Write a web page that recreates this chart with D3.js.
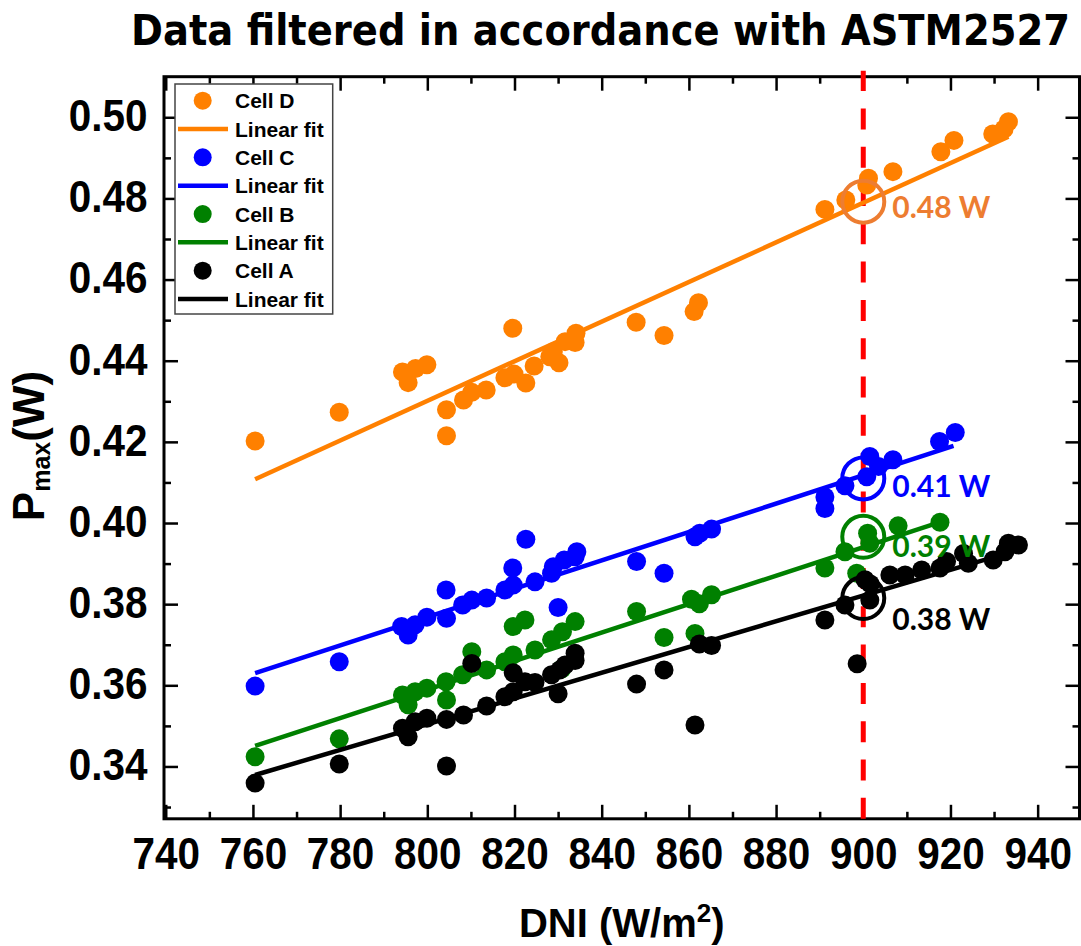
<!DOCTYPE html>
<html>
<head>
<meta charset="utf-8">
<script src="https://cdn.jsdelivr.net/npm/d3@7"></script>
<style>
  body { margin: 0; background: #fff; }
  svg { display: block; }
</style>
</head>
<body>
<div id="chart"></div>
<script>
// Values: DNI (W/m2) vs Pmax (W) for each cell
const cellD_dni  = [760.5, 779.8, 794.3, 795.6, 797.3, 799.9, 804.4, 804.4, 808.3, 810.2, 813.5, 817.8, 819.9, 819.6, 822.6, 824.5, 828.1, 828.9, 830.2, 831.6, 833.9, 834.1, 847.9, 854.3, 861.2, 862.2, 891.2, 896.0, 900.8, 901.2, 906.8, 917.8, 920.8, 929.7, 932.3, 933.3];
const cellD_pmax = [0.4202, 0.4273, 0.4372, 0.4346, 0.4381, 0.4390, 0.4279, 0.4215, 0.4303, 0.4322, 0.4328, 0.4358, 0.4367, 0.4480, 0.4345, 0.4387, 0.4410, 0.4422, 0.4395, 0.4447, 0.4445, 0.4468, 0.4495, 0.4462, 0.4521, 0.4543, 0.4773, 0.4796, 0.4833, 0.4850, 0.4866, 0.4915, 0.4943, 0.4959, 0.4971, 0.4989];

const cellC_dni  = [760.5, 779.8, 794.1, 795.6, 797.2, 799.9, 804.3, 804.4, 808.1, 810.2, 813.6, 817.8, 819.7, 819.6, 822.6, 824.7, 828.5, 828.9, 830.0, 831.4, 833.9, 834.3, 848.0, 854.3, 861.4, 862.5, 865.2, 891.2, 891.2, 895.8, 900.8, 901.5, 903.5, 906.8, 917.5, 921.1];
const cellC_pmax = [0.3598, 0.3658, 0.3745, 0.3724, 0.3749, 0.3768, 0.3835, 0.3765, 0.3798, 0.3810, 0.3815, 0.3835, 0.3847, 0.3889, 0.3960, 0.3855, 0.3876, 0.3892, 0.3792, 0.3909, 0.3917, 0.3929, 0.3905, 0.3876, 0.3966, 0.3975, 0.3985, 0.4036, 0.4064, 0.4092, 0.4114, 0.4164, 0.4139, 0.4156, 0.4201, 0.4223];

const cellB_dni  = [760.5, 779.8, 794.3, 795.6, 797.2, 799.9, 804.3, 804.4, 808.1, 810.2, 813.6, 817.8, 819.7, 819.7, 822.4, 824.7, 828.5, 830.8, 831.0, 833.9, 848.0, 854.3, 860.6, 861.4, 862.4, 865.2, 891.2, 895.8, 898.5, 901.0, 901.5, 908.0, 917.6];
const cellB_pmax = [0.3424, 0.3468, 0.3576, 0.3552, 0.3584, 0.3593, 0.3609, 0.3564, 0.3626, 0.3683, 0.3638, 0.3658, 0.3675, 0.3745, 0.3761, 0.3687, 0.3712, 0.3640, 0.3732, 0.3757, 0.3782, 0.3718, 0.3812, 0.3728, 0.3801, 0.3823, 0.3889, 0.3929, 0.3876, 0.3975, 0.3950, 0.3993, 0.4002];

const cellA_dni  = [760.5, 779.8, 794.3, 795.6, 797.2, 799.9, 804.4, 804.4, 808.3, 810.2, 813.6, 817.8, 819.7, 819.7, 822.4, 824.7, 828.5, 830.0, 830.4, 831.6, 833.9, 833.9, 848.0, 854.3, 861.4, 862.4, 865.2, 891.2, 895.8, 898.6, 900.4, 901.5, 901.6, 906.1, 909.6, 913.4, 917.6, 919.1, 923.0, 924.1, 929.8, 932.5, 933.3, 935.6];
const cellA_pmax = [0.3359, 0.3406, 0.3494, 0.3473, 0.3510, 0.3519, 0.3516, 0.3401, 0.3527, 0.3654, 0.3549, 0.3572, 0.3584, 0.3631, 0.3609, 0.3607, 0.3626, 0.3579, 0.3638, 0.3650, 0.3661, 0.3679, 0.3603, 0.3638, 0.3502, 0.3702, 0.3698, 0.3761, 0.3798, 0.3653, 0.3860, 0.3810, 0.3850, 0.3872, 0.3872, 0.3884, 0.3889, 0.3905, 0.3925, 0.3901, 0.3909, 0.3929, 0.3950, 0.3946];

// linear fit end points (as drawn)
const fitD_dni = [760.5, 933.3], fitD_pmax = [0.4108, 0.4952];
const fitC_dni = [760.5, 920.7], fitC_pmax = [0.3630, 0.4190];
const fitB_dni = [760.5, 917.6], fitB_pmax = [0.3451, 0.4002];
const fitA_dni = [760.5, 935.6], fitA_pmax = [0.3379, 0.3934];

// values marked at DNI = 900
const refDni = 900;
const refPmax = [0.4792, 0.4110, 0.3966, 0.3815];
const refLabels = ["0.48 W", "0.41 W", "0.39 W", "0.38 W"];
const refLabelPmax = [0.4751, 0.4065, 0.3917, 0.3736];

const xTicks = [740, 760, 780, 800, 820, 840, 860, 880, 900, 920, 940];
const xMinor = [750, 770, 790, 810, 830, 850, 870, 890, 910, 930];
const yTicks = [0.34, 0.36, 0.38, 0.40, 0.42, 0.44, 0.46, 0.48, 0.50];
const yMinor = [0.33, 0.35, 0.37, 0.39, 0.41, 0.43, 0.45, 0.47, 0.49];

const series = [
  { name: "Cell D", dni: cellD_dni, pmax: cellD_pmax, fitDni: fitD_dni, fitPmax: fitD_pmax, color: "#ff8000", mark: "#ed7d31" },
  { name: "Cell C", dni: cellC_dni, pmax: cellC_pmax, fitDni: fitC_dni, fitPmax: fitC_pmax, color: "#0000ff", mark: "#0000ff" },
  { name: "Cell B", dni: cellB_dni, pmax: cellB_pmax, fitDni: fitB_dni, fitPmax: fitB_pmax, color: "#008000", mark: "#008000" },
  { name: "Cell A", dni: cellA_dni, pmax: cellA_pmax, fitDni: fitA_dni, fitPmax: fitA_pmax, color: "#000000", mark: "#000000" }
];

const W = 1081, H = 946;
const margin = { top: 76.7, right: 1.5, bottom: 127.2, left: 164 },
      width = W - margin.left - margin.right,
      height = H - margin.top - margin.bottom;

const font = '"Liberation Sans", Arial, Helvetica, sans-serif';

const svg = d3.select("#chart").append("svg")
    .attr("width", W)
    .attr("height", H);

const g = svg.append("g")
    .attr("transform", `translate(${margin.left},${margin.top})`);

const x = d3.scaleLinear().domain([739.6, 949.6]).range([0, width]);
const y = d3.scaleLinear().domain([0.3271, 0.51]).range([height, 0]);

// title
svg.append("text")
    .attr("x", 131)
    .attr("y", 45)
    .attr("textLength", 939)
    .attr("lengthAdjust", "spacingAndGlyphs")
    .style("font-family", '"DejaVu Sans Condensed", "DejaVu Sans", sans-serif')
    .style("font-stretch", "condensed")
    .style("font-weight", "bold")
    .style("font-size", "43px")
    .text("Data filtered in accordance with ASTM2527");

// axes (ticks pointing inward on all sides)
function styleAxis(sel) {
  sel.select(".domain").remove();
  sel.selectAll(".tick line").attr("stroke", "#000").attr("stroke-width", 2.5);
  sel.attr("font-family", font).attr("font-size", 44).attr("font-weight", "bold");
}

const xAxis = g.append("g")
    .attr("transform", `translate(0,${height})`)
    .call(d3.axisBottom(x).tickValues(xTicks).tickSize(-14).tickSizeOuter(0).tickFormat(d3.format("d")))
    .call(styleAxis);
xAxis.selectAll("text")
    .attr("y", 50.5)
    .attr("dy", null)
    .attr("fill", "#000")
    .attr("transform", "scale(0.92,1)");

g.append("g")
    .attr("transform", `translate(0,${height})`)
    .call(d3.axisBottom(x).tickValues(xMinor).tickSize(-7).tickSizeOuter(0).tickFormat(""))
    .call(styleAxis);

g.append("g")
    .call(d3.axisTop(x).tickValues(xTicks).tickSize(-14).tickSizeOuter(0).tickFormat(""))
    .call(styleAxis);
g.append("g")
    .call(d3.axisTop(x).tickValues(xMinor).tickSize(-7).tickSizeOuter(0).tickFormat(""))
    .call(styleAxis);

const yAxis = g.append("g")
    .call(d3.axisLeft(y).tickValues(yTicks).tickSize(-14).tickSizeOuter(0).tickFormat(d3.format(".2f")))
    .call(styleAxis);
yAxis.selectAll("text")
    .attr("x", -16.5 / 0.92)
    .attr("y", 13.4)
    .attr("dy", null)
    .attr("fill", "#000")
    .attr("transform", "scale(0.92,1)");

g.append("g")
    .call(d3.axisLeft(y).tickValues(yMinor).tickSize(-7).tickSizeOuter(0).tickFormat(""))
    .call(styleAxis);

g.append("g")
    .attr("transform", `translate(${width},0)`)
    .call(d3.axisRight(y).tickValues(yTicks).tickSize(-14).tickSizeOuter(0).tickFormat(""))
    .call(styleAxis);
g.append("g")
    .attr("transform", `translate(${width},0)`)
    .call(d3.axisRight(y).tickValues(yMinor).tickSize(-7).tickSizeOuter(0).tickFormat(""))
    .call(styleAxis);

// frame
g.append("rect")
    .attr("width", width)
    .attr("height", height)
    .attr("fill", "none")
    .attr("stroke", "#000")
    .attr("stroke-width", 3);

// axis titles
const xTitle = svg.append("text")
    .attr("x", margin.left + width / 2)
    .attr("y", 937)
    .attr("text-anchor", "middle")
    .style("font-family", font)
    .style("font-weight", "bold")
    .style("font-size", "40px");
xTitle.append("tspan").text("DNI (W/m");
xTitle.append("tspan").attr("dy", -15).style("font-size", "26px").text("2");
xTitle.append("tspan").attr("dy", 15).text(")");

const yTitle = svg.append("text")
    .attr("transform", "translate(43.5,446) rotate(-90)")
    .attr("text-anchor", "middle")
    .style("font-family", font)
    .style("font-weight", "bold")
    .style("font-size", "44px");
yTitle.append("tspan").text("P");
yTitle.append("tspan").attr("dy", 6.5).style("font-size", "25px").text("max");
yTitle.append("tspan").attr("dy", -6.5).text("(W)");

// red reference line at DNI = 900
g.append("line")
    .attr("x1", x(refDni))
    .attr("x2", x(refDni))
    .attr("y1", height)
    .attr("y2", -6)
    .attr("stroke", "#ff0000")
    .attr("stroke-width", 5)
    .attr("stroke-dasharray", "21,17.3");

// fits and points
const line = d3.line().x(d => x(d[0])).y(d => y(d[1]));

series.forEach(s => {
  g.append("path")
      .datum(d3.zip(s.fitDni, s.fitPmax))
      .attr("d", line)
      .attr("fill", "none")
      .attr("stroke", s.color)
      .attr("stroke-width", 4.5);

  g.append("g")
    .selectAll("circle")
    .data(d3.zip(s.dni, s.pmax))
    .join("circle")
      .attr("cx", d => x(d[0]))
      .attr("cy", d => y(d[1]))
      .attr("r", 9.5)
      .attr("fill", s.color);
});

// circled values at DNI = 900
series.forEach((s, i) => {
  g.append("circle")
      .attr("cx", x(refDni))
      .attr("cy", y(refPmax[i]))
      .attr("r", 21)
      .attr("fill", "none")
      .attr("stroke", s.mark)
      .attr("stroke-width", 4);

  g.append("text")
      .attr("x", x(refDni) + 29)
      .attr("y", y(refLabelPmax[i]))
      .attr("fill", s.mark)
      .style("font-family", "Lato, 'Open Sans', sans-serif")
      .style("font-weight", "bold")
      .style("font-size", "30px")
      .text(refLabels[i]);
});

// legend
const legend = svg.append("g").attr("transform", "translate(175,84)");
legend.append("rect")
    .attr("width", 157.7)
    .attr("height", 230)
    .attr("fill", "#fff")
    .attr("stroke", "#444")
    .attr("stroke-width", 1.5);

series.forEach((s, i) => {
  const r1 = 16.7 + i * 2 * 28.33, r2 = r1 + 28.33;
  legend.append("circle")
      .attr("cx", 27.7).attr("cy", r1).attr("r", 9)
      .attr("fill", s.color);
  legend.append("text")
      .attr("x", 60).attr("y", r1 + 7.5)
      .style("font-family", font).style("font-weight", "bold").style("font-size", "21px")
      .text(s.name);
  legend.append("line")
      .attr("x1", 3).attr("x2", 53).attr("y1", r2).attr("y2", r2)
      .attr("stroke", s.color).attr("stroke-width", 4.5);
  legend.append("text")
      .attr("x", 60).attr("y", r2 + 7.5)
      .style("font-family", font).style("font-weight", "bold").style("font-size", "21px")
      .text("Linear fit");
});
</script>
</body>
</html>
